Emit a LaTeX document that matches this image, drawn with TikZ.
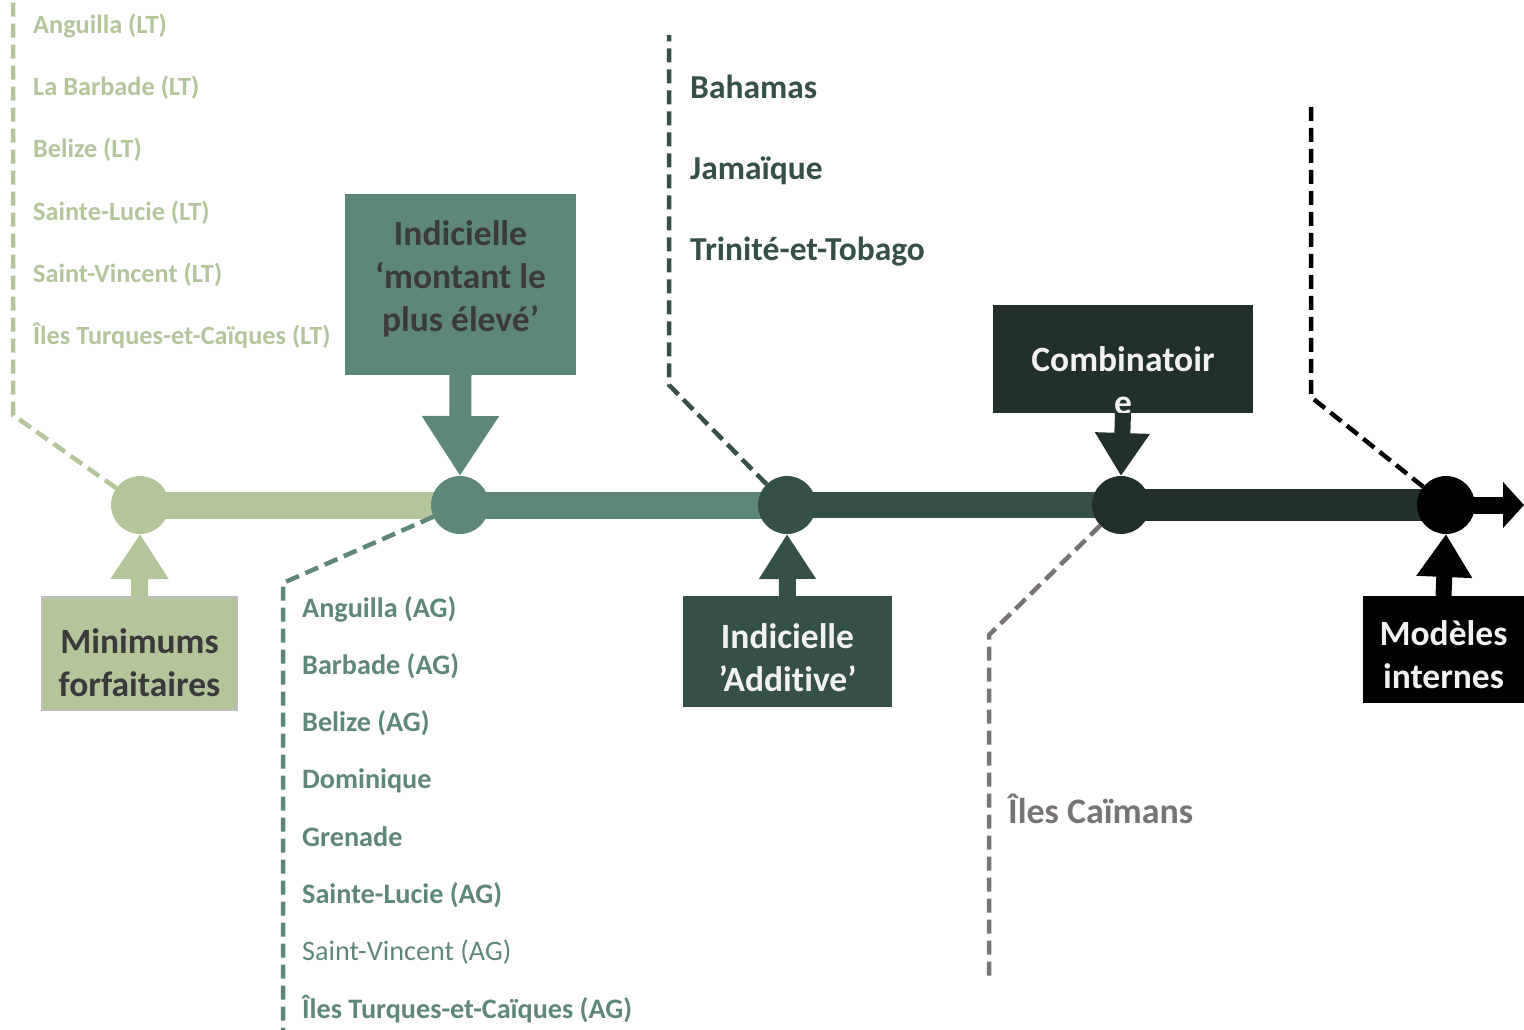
\documentclass[tikz,border=0pt]{standalone}
\usepackage{fontspec}
\setmainfont{Carlito}[Ligatures=NoCommon]
\usetikzlibrary{arrows.meta,backgrounds}

\definecolor{lightg}{HTML}{B4C59C}
\definecolor{midg}{HTML}{5F8777}
\definecolor{darkg}{HTML}{355046}
\definecolor{deepg}{HTML}{22302A}
\definecolor{greyc}{HTML}{787474}
\definecolor{boxtext}{HTML}{3A3A3A}
\definecolor{whitetext}{HTML}{F2F2F2}

\begin{document}
\begin{tikzpicture}[x=1pt, y=-1pt,
        dot/.style={circle, inner sep=0pt, outer sep=0pt, minimum size=58pt},
        stage/.style={rectangle, inner sep=0pt, outer sep=0pt, align=center, font=\fontsize{35.5}{43}\selectfont\bfseries},
        leader/.style={line width=4.5pt, dash pattern=on 14pt off 7pt},
        country/.style={anchor=base west, inner sep=0pt, font=\bfseries}]
        \useasboundingbox (0,0) rectangle (1524,1030);

        %% Stages on the line
    	\node[dot, fill=lightg] (c1) at (140,505) {};
    	\node[dot, fill=midg] (c2) at (460,505) {};
    	\node[dot, fill=darkg] (c3) at (787,505) {};
    	\node[dot, fill=deepg] (c4) at (1121,505) {};
    	\node[dot, fill=black] (c5) at (1446,505) {};
    	\coordinate (tipend) at (1524,505);

    	\begin{scope}[on background layer]
    	    \draw[line width=27pt, lightg] (c1.center) -- (c2.center);
    	    \draw[line width=27pt, midg] (c2.center) -- (c3.center);
    	    \draw[line width=26pt, darkg] (c3.center) -- (c4.center);
    	    \draw[line width=32pt, deepg] (c4.center) -- (c5.center);
    	    \draw[line width=17pt, black, -{Triangle[length=21pt, width=45pt]}] (c5.center) -- (tipend);
    	\end{scope}

        %% Boxes
    	\node[stage, fill=lightg, draw=black!25, line width=2pt, text=boxtext, minimum width=195pt, minimum height=113pt] (minbox) at (139.5,653.5) {\rule{0pt}{44pt}Minimums\\forfaitaires};
    	\node[stage, fill=midg, text=boxtext, minimum width=231pt, minimum height=181pt] (montbox) at (460.5,284.5) {Indicielle\\‘montant le\\plus élevé’\rule[-16pt]{0pt}{1pt}};
    	\node[stage, fill=darkg, text=whitetext, minimum width=209pt, minimum height=111pt] (addbox) at (787.5,651.5) {\rule{0pt}{38pt}Indicielle\\’Additive’};
    	\node[stage, fill=deepg, minimum width=260pt, minimum height=108pt] (comb) at (1123,359) {};
    	\node[stage, text=whitetext] (combtxt) at ([yshift=-22pt]comb.center) {Combinatoir\\e};
    	\node[stage, fill=black, text=whitetext, minimum width=161pt, minimum height=107pt] (modbox) at (1443.5,649.5) {\rule{0pt}{36pt}Modèles\\internes};

    	    %% Block arrows
    	    \draw[line width=17pt, lightg, -{Triangle[length=45pt, width=55pt]}] (minbox.north) -- (c1.south);
    	    \draw[line width=22pt, midg, -{Triangle[length=60pt, width=73pt]}] (montbox.south) -- (c2.north);
    	    \draw[line width=17pt, darkg, -{Triangle[length=45pt, width=54pt]}] (addbox.north) -- (c3.south);
    	    \draw[line width=16pt, deepg, -{Triangle[length=43pt, width=52pt]}] (comb.south) -- (c4.north);
    	    \draw[line width=16pt, black, -{Triangle[length=43pt, width=53pt]}] (modbox.north) -- (c5.south);

        %% Leaders
    	\coordinate (ltbend) at (13,415);
    	\coordinate (lttop) at (13,0);
    	\coordinate (agbend) at (283,583);
    	\coordinate (agend) at (283,1030);
    	\coordinate (bhbend) at (669,385);
    	\coordinate (bhtop) at (669,35);
    	\coordinate (cybend) at (989,635);
    	\coordinate (cyend) at (989,978);
    	\coordinate (imbend) at (1311,397);
    	\coordinate (imtop) at (1311,100);
    	\begin{scope}[on background layer]
    	    \draw[leader, lightg] (c1) -- (ltbend) -- (lttop);
    	    \draw[leader, midg] (c2) -- (agbend) -- (agend);
    	    \draw[leader, darkg] (c3) -- (bhbend) -- (bhtop);
    	    \draw[leader, greyc] (c4) -- (cybend) -- (cyend);
    	    \draw[leader, black] (c5) -- (imbend) -- (imtop);
    	\end{scope}

        %% Country lists
    	\foreach \name [count=\i] in {{Anguilla (LT)}, {La Barbade (LT)}, {Belize (LT)}, {Sainte-Lucie (LT)}, {Saint-Vincent (LT)}, {Îles Turques-et-Caïques (LT)}}
    	    \node[country, text=lightg, font=\fontsize{26.3}{30}\selectfont\bfseries] (lt\i) at (33,{34+62*(\i-1)}) {\name};
    	\foreach \name [count=\i] in {{Anguilla (AG)}, {Barbade (AG)}, {Belize (AG)}, {Dominique}, {Grenade}, {Sainte-Lucie (AG)}, {\mdseries Saint-Vincent (AG)}, {Îles Turques-et-Caïques (AG)}}
    	    \node[country, text=midg, font=\fontsize{28.2}{32}\selectfont\bfseries] (ag\i) at (302,{617+57.3*(\i-1)}) {\name};
    	\foreach \name [count=\i] in {Bahamas, Jamaïque, Trinité-et-Tobago}
    	    \node[country, text=darkg, font=\fontsize{33.5}{38}\selectfont\bfseries] (bh\i) at (690,{99+80.5*(\i-1)}) {\name};
    	\node[country, text=greyc, font=\fontsize{35.9}{42}\selectfont\bfseries] (cy) at (1008,823) {Îles Caïmans};
\end{tikzpicture}
\end{document}
